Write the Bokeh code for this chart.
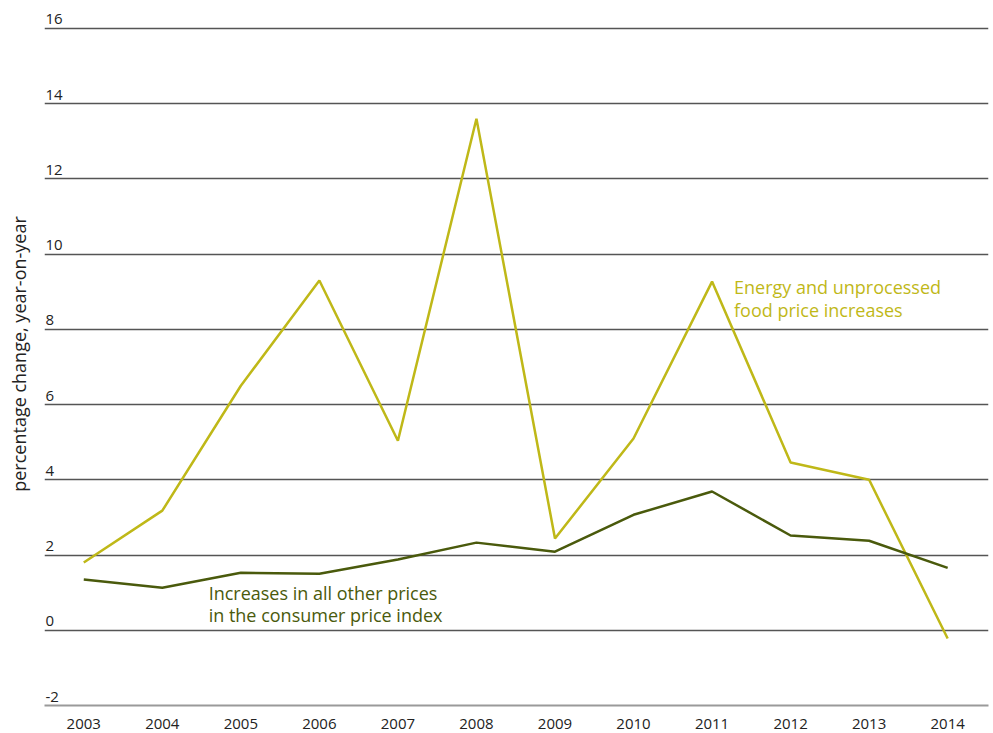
from bokeh.plotting import figure
from bokeh.models import Range1d, FixedTicker
from bokeh.core.properties import value
from bokeh.embed import file_html
from bokeh.resources import INLINE

years = [2003, 2004, 2005, 2006, 2007, 2008, 2009, 2010, 2011, 2012, 2013, 2014]
energy_food = [1.8, 3.18, 6.5, 9.3, 5.04, 13.6, 2.44, 5.1, 9.27, 4.46, 4.0, -0.22]
other_prices = [1.35, 1.13, 1.53, 1.5, 1.88, 2.33, 2.09, 3.07, 3.69, 2.52, 2.38, 1.66]
y_ticks = [-2, 0, 2, 4, 6, 8, 10, 12, 14, 16]
y_tick_labels = [str(t) for t in y_ticks]

YELLOW = "#bfb818"
GREEN = "#4a5a0c"
FONT = "Open Sans"

p = figure(width=993, height=733, output_backend="svg", toolbar_location=None,
           x_range=Range1d(2002.5, 2014.52), y_range=Range1d(-2, 16.69),
           min_border_left=44, min_border_right=5, min_border_top=2,
           min_border_bottom=28)
p.outline_line_color = None
p.background_fill_color = "white"
p.border_fill_color = "white"

# x axis: years under the points, the axis line forms the -2 baseline
p.xaxis.ticker = FixedTicker(ticks=years)
p.xaxis.major_tick_line_color = None
p.xaxis.minor_tick_line_color = None
p.xaxis.axis_line_color = "#9a9a9a"
p.xaxis.axis_line_width = 2
p.xaxis.major_label_text_font = FONT
p.xaxis.major_label_text_font_size = "15px"
p.xaxis.major_label_text_color = "#222222"
p.xaxis.major_label_standoff = 7
p.xgrid.grid_line_color = None

# y axis: only the title, tick labels sit above the gridlines
p.yaxis.ticker = FixedTicker(ticks=[])
p.yaxis.major_tick_line_color = None
p.yaxis.minor_tick_line_color = None
p.yaxis.axis_line_color = None
p.yaxis.axis_label = "percentage change, year-on-year"
p.yaxis.axis_label_text_font = FONT
p.yaxis.axis_label_text_font_size = "18px"
p.yaxis.axis_label_text_font_style = "normal"
p.yaxis.axis_label_text_color = "#222222"
p.yaxis.axis_label_standoff = 14
p.ygrid.ticker = FixedTicker(ticks=[t for t in y_ticks if t > -2])
p.ygrid.grid_line_color = "#555555"
p.ygrid.grid_line_width = 1.3

p.text(x=[2002.5] * len(y_ticks), y=y_ticks, text=y_tick_labels,
       text_font=value(FONT), text_font_size="15px", text_color="#222222",
       text_align="left", text_baseline="bottom", x_offset=1, y_offset=-4)

p.line(years, energy_food, line_color=YELLOW, line_width=2.5)
p.line(years, other_prices, line_color=GREEN, line_width=2.5)

p.text(x=[2011.28], y=[8.82], text=["Energy and unprocessed\nfood price increases"],
       text_font=value(FONT), text_font_size="18px", text_color=YELLOW,
       text_align="left", text_baseline="middle", text_line_height=0.92)
p.text(x=[2004.59], y=[0.69], text=["Increases in all other prices\nin the consumer price index"],
       text_font=value(FONT), text_font_size="18px", text_color=GREEN,
       text_align="left", text_baseline="middle", text_line_height=0.92)

open("out.html", "w").write(file_html(p, INLINE))
